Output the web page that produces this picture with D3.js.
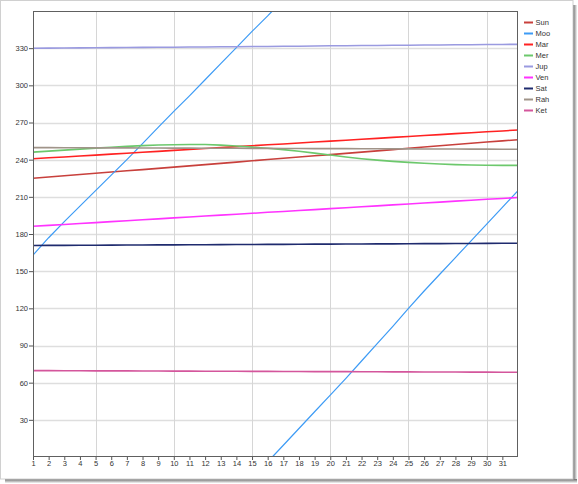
<!DOCTYPE html>
<html>
<head>
<meta charset="utf-8">
<script src="https://cdn.jsdelivr.net/npm/d3@7/dist/d3.min.js"></script>
<style>
  html, body { margin: 0; padding: 0; background: #fff; }
  svg { display: block; font-family: "Liberation Sans", Arial, sans-serif; }
</style>
</head>
<body>
<svg id="chart" width="578" height="484"></svg>
<script>
// ---------- data ----------
const days = [1,2,3,4,5,6,7,8,9,10,11,12,13,14,15,16,17,18,19,20,21,22,23,24,25,26,27,28,29,30,31,32];
const xTickLabels = [1,2,3,4,5,6,7,8,9,10,11,12,13,14,15,16,17,18,19,20,21,22,23,24,25,26,27,28,29,30,31];
const yTickLabels = [30,60,90,120,150,180,210,240,270,300,330];
const xGridDays = [5,10,15,20,25,30];

const seriesNames = ["Sun","Moo","Mar","Mer","Jup","Ven","Sat","Rah","Ket"];
const seriesColors = ["#c8403c","#3d9bf5","#ff2222","#6cc86c","#9a9ae0","#ff33ff","#1f2b6e","#a09489","#d4569c"];

const sun = [225.0,226.0,227.0,228.0,229.0,230.0,231.0,232.0,233.0,234.0,235.0,236.0,237.0,238.0,239.1,240.1,241.1,242.1,243.1,244.1,245.1,246.1,247.1,248.1,249.2,250.2,251.2,252.2,253.2,254.2,255.2,256.1];
const moo = [163.0,177.0,190.0,202.5,215.0,227.5,240.0,253.0,266.0,279.0,291.5,304.5,317.5,330.5,343.5,356.0,9.5,23.0,36.5,50.0,63.5,77.5,91.5,105.5,120.0,134.0,147.5,161.0,174.5,188.0,201.5,215.0];
const mar = [240.7,241.5,242.2,243.0,243.7,244.5,245.2,246.0,246.7,247.5,248.2,249.0,249.7,250.5,251.2,252.0,252.7,253.5,254.2,255.0,255.7,256.5,257.2,258.0,258.7,259.5,260.2,261.0,261.7,262.5,263.2,264.0];
const mer = [246.1,246.9,247.7,248.5,249.3,250.0,250.7,251.3,251.8,252.1,252.3,252.2,251.7,251.0,250.1,249.2,248.1,246.8,245.3,243.8,242.2,240.8,239.6,238.6,237.8,237.1,236.5,236.0,235.7,235.5,235.4,235.4];
const jup = [329.9,330.0,330.1,330.2,330.3,330.4,330.5,330.6,330.7,330.8,330.9,331.0,331.1,331.2,331.3,331.4,331.5,331.6,331.8,331.9,332.0,332.1,332.2,332.3,332.4,332.5,332.6,332.7,332.8,332.9,333.0,333.1];
const ven = [186.2,187.0,187.7,188.5,189.2,190.0,190.7,191.5,192.2,193.0,193.7,194.5,195.2,196.0,196.7,197.5,198.2,199.0,199.7,200.5,201.2,202.0,202.7,203.5,204.2,205.0,205.7,206.5,207.2,208.0,208.7,209.5];
const sat = [170.7,170.8,170.8,170.9,170.9,171.0,171.1,171.1,171.2,171.2,171.3,171.3,171.4,171.5,171.5,171.6,171.6,171.7,171.8,171.8,171.9,171.9,172.0,172.0,172.1,172.2,172.2,172.3,172.3,172.4,172.5,172.5];
const rah = [249.7,249.7,249.6,249.6,249.5,249.5,249.5,249.4,249.4,249.3,249.3,249.2,249.2,249.2,249.1,249.1,249.0,249.0,248.9,248.9,248.9,248.8,248.8,248.7,248.7,248.6,248.6,248.6,248.5,248.5,248.4,248.4];
const ket = [69.7,69.7,69.6,69.6,69.5,69.5,69.5,69.4,69.4,69.3,69.3,69.2,69.2,69.2,69.1,69.1,69.0,69.0,68.9,68.9,68.9,68.8,68.8,68.7,68.7,68.6,68.6,68.6,68.5,68.5,68.4,68.4];
const seriesValues = [sun, moo, mar, mer, jup, ven, sat, rah, ket];

// ---------- layout ----------
const svg = d3.select("#chart");
const W = 578, H = 484;
const plot = { left: 33, top: 11, right: 518, bottom: 457 };

// frame with drop shadow
const defs = svg.append("defs");
const gr = defs.append("linearGradient").attr("id","shR").attr("x1","0").attr("x2","1").attr("y1","0").attr("y2","0");
gr.append("stop").attr("offset","0%").attr("stop-color","#6a6a6a");
gr.append("stop").attr("offset","100%").attr("stop-color","#f4f4f4");
const gb = defs.append("linearGradient").attr("id","shB").attr("x1","0").attr("x2","0").attr("y1","0").attr("y2","1");
gb.append("stop").attr("offset","0%").attr("stop-color","#6a6a6a");
gb.append("stop").attr("offset","100%").attr("stop-color","#f4f4f4");
svg.append("rect").attr("x",0).attr("y",0).attr("width",W).attr("height",H).attr("fill","#fff");
svg.append("rect").attr("x",573).attr("y",5).attr("width",4).attr("height",477).attr("fill","url(#shR)");
svg.append("rect").attr("x",5).attr("y",479).attr("width",572).attr("height",4).attr("fill","url(#shB)");
svg.append("rect").attr("x",0.5).attr("y",0.5).attr("width",572.5).attr("height",478.5)
  .attr("fill","#fff").attr("stroke","#d0d0d0");

const x = d3.scaleLinear().domain([1, 32]).range([plot.left, plot.right]);
const y = d3.scaleLinear().domain([0, 360]).range([plot.bottom, plot.top]);

defs.append("clipPath").attr("id","clip").append("rect")
  .attr("x",plot.left).attr("y",plot.top)
  .attr("width",plot.right-plot.left).attr("height",plot.bottom-plot.top);

// grid
const grid = svg.append("g");
grid.selectAll("line.h").data(yTickLabels).join("line")
  .attr("x1",plot.left).attr("x2",plot.right)
  .attr("y1",d=>Math.round(y(d))+0.5).attr("y2",d=>Math.round(y(d))+0.5)
  .attr("stroke","#dedede").attr("stroke-width",1.6);
grid.selectAll("line.v").data(xGridDays).join("line")
  .attr("y1",plot.top).attr("y2",plot.bottom)
  .attr("x1",d=>Math.round(x(d))+0.5).attr("x2",d=>Math.round(x(d))+0.5)
  .attr("stroke","#d6d6d6").attr("stroke-width",1);

// axes
const yAxis = d3.axisLeft(y).tickValues(yTickLabels).tickSize(4).tickPadding(1);
const gy = svg.append("g").attr("transform",`translate(${plot.left},0)`).call(yAxis);
gy.select(".domain").remove();
gy.selectAll("line").attr("stroke","#555");
gy.selectAll("text").attr("fill","#333").style("font-size","7.5px");

const xAxis = d3.axisBottom(x).tickValues(xTickLabels).tickSize(3).tickPadding(1).tickFormat(d3.format("d"));
const gx = svg.append("g").attr("transform",`translate(0,${plot.bottom})`).call(xAxis);
gx.select(".domain").remove();
gx.selectAll("line").attr("stroke","#555");
gx.selectAll("text").attr("fill","#333").style("font-size","7.5px");

// series lines
const lineGen = d3.line().x(p=>p[0]).y(p=>p[1]);
const lines = svg.append("g").attr("clip-path","url(#clip)");
seriesValues.forEach((vals, i) => {
  // split at the 360 -> 0 wrap
  const segs = [];
  let cur = [[x(days[0]), y(vals[0])]];
  for (let k = 1; k < vals.length; k++) {
    const a = vals[k-1], b = vals[k];
    if (b - a < -180) {
      const t = (360 - a) / (b + 360 - a);
      const xm = x(days[k-1] + t * (days[k] - days[k-1]));
      cur.push([xm, y(360)]);
      segs.push(cur);
      cur = [[xm, y(0)]];
    }
    cur.push([x(days[k]), y(b)]);
  }
  segs.push(cur);
  segs.forEach(s => {
    lines.append("path").attr("d", lineGen(s)).attr("fill","none")
      .attr("stroke", seriesColors[i])
      .attr("stroke-width", seriesNames[i] === "Moo" ? 1.2 : 1.6);
  });
});

// plot border
svg.append("rect").attr("x",plot.left+0.5).attr("y",plot.top+0.5)
  .attr("width",plot.right-plot.left-1).attr("height",plot.bottom-plot.top-1)
  .attr("fill","none").attr("stroke","#606060");

// legend
const leg = svg.append("g");
seriesNames.forEach((n, i) => {
  const ly = 22.5 + i * 11;
  leg.append("line").attr("x1",524).attr("x2",533).attr("y1",ly).attr("y2",ly)
    .attr("stroke",seriesColors[i]).attr("stroke-width",2);
  leg.append("text").attr("x",535.5).attr("y",ly).attr("dy","0.35em")
    .attr("fill","#333").style("font-size","7.5px").text(n);
});
</script>
</body>
</html>
